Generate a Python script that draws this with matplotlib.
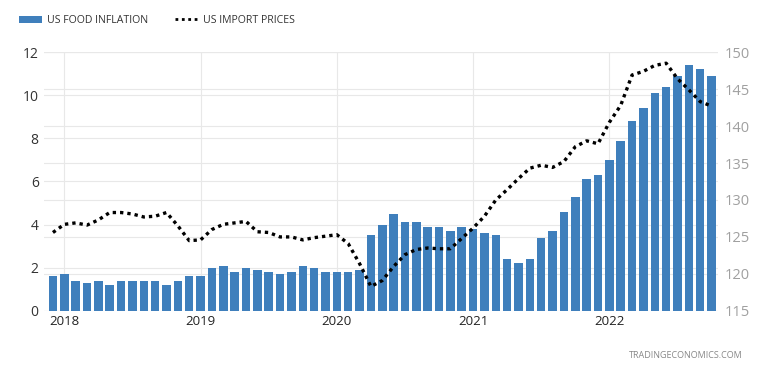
import matplotlib
matplotlib.use('Agg')
import matplotlib.pyplot as plt
import matplotlib.transforms as mtransforms
from matplotlib.patches import Patch
from matplotlib.lines import Line2D

plt.rcParams['font.family'] = ['Open Sans', 'DejaVu Sans']

# monthly, Dec 2017 .. Oct 2022
meses = list(range(59))
inflacao_alimentos = [1.6, 1.7, 1.4, 1.3, 1.4, 1.2, 1.4, 1.4, 1.4, 1.4, 1.2, 1.4,
                      1.6, 1.6, 2.0, 2.1, 1.8, 2.0, 1.9, 1.8, 1.7, 1.8, 2.1, 2.0,
                      1.8, 1.8, 1.8, 1.9, 3.5, 4.0, 4.5, 4.1, 4.1, 3.9, 3.9, 3.7,
                      3.9, 3.8, 3.6, 3.5, 2.4, 2.2, 2.4, 3.4, 3.7, 4.6, 5.3, 6.1,
                      6.3, 7.0, 7.9, 8.8, 9.4, 10.1, 10.4, 10.9, 11.4, 11.2, 10.9]
precos_importacao = [125.6, 126.7, 126.9, 126.6, 127.3, 128.3, 128.3, 128.1, 127.7, 127.8, 128.3, 126.5,
                     124.5, 124.6, 126.0, 126.7, 126.9, 127.1, 125.7, 125.6, 125.0, 125.0, 124.6, 124.9,
                     125.1, 125.3, 124.1, 121.4, 118.3, 119.1, 121.0, 122.6, 123.3, 123.5, 123.4, 123.4,
                     124.8, 126.2, 127.8, 130.0, 131.4, 132.9, 134.3, 134.7, 134.4, 135.2, 137.2, 138.0,
                     137.6, 140.5, 142.8, 146.9, 147.4, 148.2, 148.5, 146.4, 144.9, 143.3, 142.7]
anos_pos = [1, 13, 25, 37, 49]
anos_txt = ['2018', '2019', '2020', '2021', '2022']

fig = plt.figure(figsize=(7.62, 3.67), dpi=100)
ax = fig.add_axes([0.058, 0.153, 0.884, 0.705])
ax2 = ax.twinx()
ax.set_zorder(ax2.get_zorder() + 1)
ax.patch.set_visible(False)

cor_barra = '#3f7fbc'
cor_grid = '#e8e8e8'

ax.bar(meses, inflacao_alimentos, width=0.75, color=cor_barra, zorder=2)

# linha na escala da direita, mas desenhada por cima das barras
trans = mtransforms.blended_transform_factory(ax.transData, ax2.transData)
ax.plot(meses, precos_importacao, transform=trans, color='black',
        linestyle=(0, (1, 1.2)), linewidth=2.4, zorder=3)

ax.set_xlim(-0.77, 58.55)
ax.set_ylim(0, 12)
ax2.set_ylim(115, 150)

ax.set_yticks(range(0, 13, 2))
ax2.set_yticks(range(115, 151, 5))
ax.set_xticks(anos_pos)
ax.set_xticklabels(anos_txt)

ax.grid(True, color=cor_grid, linewidth=0.8, zorder=0)
ax.set_axisbelow(True)
ax2.grid(True, axis='y', color=cor_grid, linewidth=0.8)

for a in (ax, ax2):
    for s in a.spines.values():
        s.set_visible(False)

ax.tick_params(axis='y', length=0, labelsize=10, labelcolor='#333333', pad=4)
ax.tick_params(axis='x', length=0, labelsize=9.5, labelcolor='#222222', pad=3)
ax2.tick_params(axis='y', length=0, labelsize=10.5, labelcolor='#a0a0a0', pad=5)

handles = [Patch(facecolor=cor_barra, edgecolor='none'),
           Line2D([0], [0], color='black', linestyle=(0, (1, 1.3)), linewidth=2)]
fig.legend(handles, ['US FOOD INFLATION', 'US IMPORT PRICES'], loc='upper left',
           bbox_to_anchor=(0.012, 0.985), ncol=2, frameon=False, fontsize=7.6,
           handlelength=2.2, handleheight=0.6, handletextpad=0.5, columnspacing=2.5,
           labelcolor='#333333')

fig.text(0.975, 0.018, 'TRADINGECONOMICS.COM', ha='right', va='bottom',
         fontsize=6.5, color='#888888')

plt.savefig('out.png', dpi=100)
